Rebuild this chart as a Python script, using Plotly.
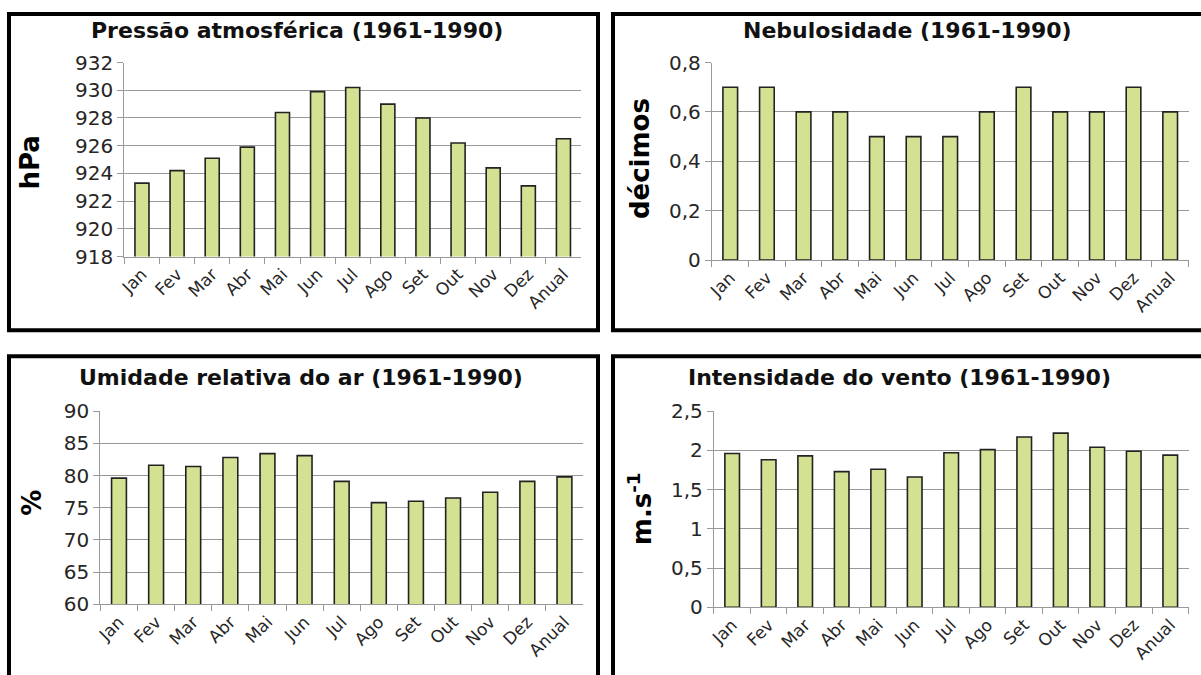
import plotly.graph_objects as go

months = ["Jan", "Fev", "Mar", "Abr", "Mai", "Jun", "Jul", "Ago", "Set", "Out", "Nov", "Dez", "Anual"]

pressao = [923.3, 924.2, 925.1, 925.9, 928.4, 929.9, 930.2, 929.0, 928.0, 926.2, 924.4, 923.1, 926.5]
nebulosidade = [0.7, 0.7, 0.6, 0.6, 0.5, 0.5, 0.5, 0.6, 0.7, 0.6, 0.6, 0.7, 0.6]
umidade = [79.6, 81.6, 81.4, 82.8, 83.4, 83.1, 79.1, 75.8, 76.0, 76.5, 77.4, 79.1, 79.8]
vento = [1.96, 1.88, 1.93, 1.73, 1.76, 1.66, 1.97, 2.01, 2.17, 2.22, 2.04, 1.99, 1.94]

titles = ["Pressão atmosférica (1961-1990)", "Nebulosidade (1961-1990)",
          "Umidade relativa do ar (1961-1990)", "Intensidade do vento (1961-1990)"]
ylabels = ["hPa", "décimos", "%", "m.s<sup>-1</sup>"]
yranges = [[918, 932], [0, 0.8], [60, 90], [0, 2.5]]
ydticks = [2, 0.2, 5, 0.5]
series = [pressao, nebulosidade, umidade, vento]

W, H = 1201, 675

# target positions are given in screen pixels; convert to page pixels
def sx(s):
    return (s - 6.5) / 0.995
def sy(s):
    return (s - 12.0) / 0.964
def px(s):
    return sx(s) / W
def py(s):
    return 1 - sy(s) / H

areas = [(124, 581, 62.5, 256.5), (712, 1189, 62.5, 260), (100, 583, 411, 604), (714, 1189, 411, 607)]
title_pos = [(297, 30), (908, 30), (301, 377), (900, 377)]
ylab_pos = [(30, 162), (640, 158), (32, 502), (640, 508)]
# borders in page pixels (left, right, top, bottom)
borders = [(2, sx(598), 2, sy(330)), (sx(613), 1215, 2, sy(330)),
           (2, sx(598), sy(356), 720), (sx(613), 1215, sy(356), 720)]

BAR = "#D3E192"
GRID = "#999999"
TXT = "#262626"
FONT = "DejaVu Sans"

fig = go.Figure()
annotations = []
shapes = []
for i in range(4):
    k = "" if i == 0 else str(i + 1)
    fig.add_trace(go.Bar(x=months, y=series[i], xaxis="x" + k, yaxis="y" + k,
                         marker=dict(color=BAR, line=dict(color="#222222", width=1.6)),
                         showlegend=False))
    l, r, t, b = areas[i]
    fig.layout["xaxis" + k] = dict(domain=[px(l), px(r)], anchor="y" + k,
                                   showline=True, linecolor=GRID, linewidth=1.2,
                                   ticks="outside", tickson="boundaries", ticklen=6,
                                   tickcolor=GRID, tickwidth=1.2, tickangle=-45,
                                   tickfont=dict(family=FONT, size=17, color=TXT),
                                   showgrid=False, fixedrange=True)
    fig.layout["yaxis" + k] = dict(domain=[py(b), py(t)], anchor="x" + k,
                                   range=yranges[i], dtick=ydticks[i], tick0=0,
                                   showline=True, linecolor=GRID, linewidth=1.2,
                                   showgrid=True, gridcolor=GRID, gridwidth=1.2,
                                   ticks="outside", ticklen=6, tickcolor=GRID, tickwidth=1.2,
                                   zeroline=False,
                                   tickfont=dict(family=FONT, size=20, color=TXT),
                                   fixedrange=True)
    tx, ty = title_pos[i]
    annotations.append(dict(x=px(tx), y=py(ty), xref="paper", yref="paper",
                            text="<b>" + titles[i] + "</b>", showarrow=False,
                            xanchor="center", yanchor="middle",
                            font=dict(family=FONT, size=22, color="#111111")))
    lx, ly = ylab_pos[i]
    annotations.append(dict(x=px(lx), y=py(ly), xref="paper", yref="paper",
                            text="<b>" + ylabels[i] + "</b>", showarrow=False,
                            textangle=-90, xanchor="center", yanchor="middle",
                            font=dict(family=FONT, size=26, color="#000000")))
    bl, br, bt, bb = borders[i]
    shapes.append(dict(type="rect", xref="paper", yref="paper",
                       x0=bl / W, x1=br / W, y0=1 - bb / H, y1=1 - bt / H,
                       line=dict(color="black", width=4), fillcolor="rgba(0,0,0,0)"))

fig.update_layout(width=W, height=H, autosize=False,
                  margin=dict(l=0, r=0, t=0, b=0),
                  paper_bgcolor="white", plot_bgcolor="white",
                  bargap=0.6, separators=",.",
                  annotations=annotations, shapes=shapes,
                  font=dict(family=FONT, color=TXT))

fig.write_html("out.html", config={"displayModeBar": False},
               post_script="document.documentElement.style.margin='0';"
                           "document.body.style.margin='0';"
                           "document.body.style.overflow='hidden';"
                           "document.documentElement.style.overflow='hidden';")
